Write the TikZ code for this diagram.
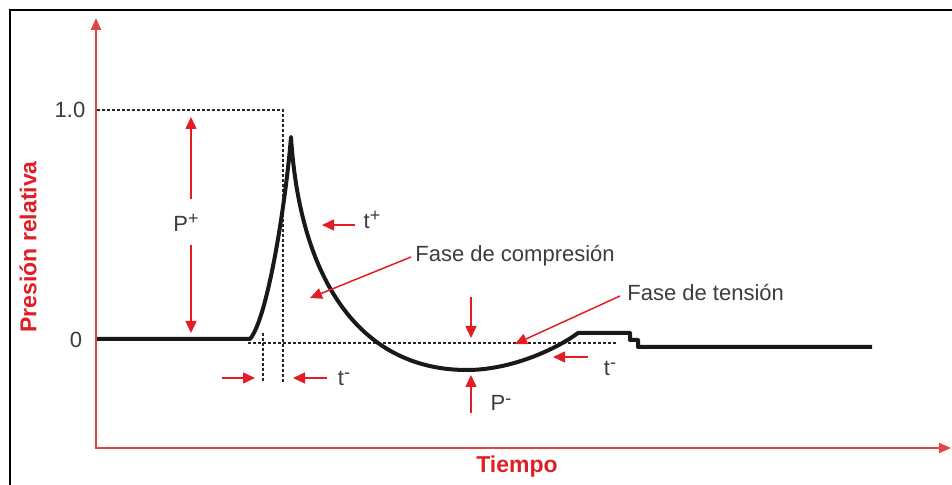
\documentclass[tikz,border=0pt]{standalone}
\usepackage{fontspec}
\setmainfont{Liberation Sans}
\usepackage{xcolor}
\usetikzlibrary{arrows.meta}
\definecolor{axisred}{RGB}{224,70,70}
\definecolor{notered}{RGB}{226,30,36}
\definecolor{textgray}{RGB}{60,60,60}
\newcommand{\upper}[1]{\raisebox{0.55ex}{\fontsize{9}{10}\selectfont #1}}

\begin{document}
\begin{tikzpicture}[x=0.5pt, y=-0.5pt,
	axis/.style={draw=axisred, line width=1pt, {Triangle[length=6pt,width=5pt]}-{Triangle[length=6pt,width=5pt]}},
	axislabel/.style={text=notered, font=\fontsize{11.5}{13}\selectfont\bfseries},
	ticklabel/.style={text=textgray, font=\fontsize{11}{13}\selectfont},
	note/.style={draw=notered, line width=0.75pt, -{Triangle[length=6pt,width=5.5pt]}},
	notelabel/.style={text=textgray, font=\fontsize{11}{13}\selectfont, inner sep=0pt},
	guide/.style={draw=black!85, line width=0.6pt, dash pattern=on 1.5pt off 1pt},
	signal/.style={draw=black!90, line width=2pt, line join=round}]
	\useasboundingbox (0,0) rectangle (952,485);
	\draw[line width=1pt] (10,485) -- (10,10) -- (952,10);
	\coordinate (ytip) at (96,18);
	\coordinate (origin) at (96,448);
	\coordinate (xtip) at (951,448);
	\draw[axis] (ytip) -- (origin) -- (xtip);
	\draw (28,247) node[axislabel, rotate=90] (ylab) {Presión relativa};
	\draw (517,467) node[axislabel] (xlab) {Tiempo};
	\draw (70,110) node[ticklabel] (one) {1.0};
	\draw (76,340) node[ticklabel] (zero) {0};
	\draw[guide] (97,110) -- (283,110) -- (283,383);
	\draw[guide] (263,333) -- (263,383);
	\draw[guide] (248,343) -- (617,343);
	\draw[signal] (97,339) -- (250,339)
		.. controls (268,318) and (286,200) .. (291,137)
		.. controls (300,280) and (360,370) .. (467,370)
		.. controls (510,370) and (555,350) .. (578,333)
		-- (630,333) -- (630,340) -- (638,340) -- (638,347) -- (872,347);
	\draw (186,223) node[notelabel] (pplus) {P\upper{+}};
	\coordinate (pplustop) at (191,117);
	\coordinate (pplusbot) at (191,333);
	\draw[note] (191,199) -- (pplustop);
	\draw[note] (191,245) -- (pplusbot);
	\draw (372,220) node[notelabel] (tplus) {t\upper{+}};
	\draw[note] (355,225) -- (322,225);
	\draw (415,262) node[notelabel, anchor=base west] (compr) {Fase de compresión};
	\draw[note] (411,257) -- (310,298);
	\draw (627,301) node[notelabel, anchor=base west] (tens) {Fase de tensión};
	\draw[note] (620,296) -- (515,344);
	\draw (344,378) node[notelabel] (tminusa) {t\upper{-}};
	\draw[note] (222,378) -- (255,378);
	\draw[note] (327,378) -- (293,378);
	\draw (610,368) node[notelabel] (tminusb) {t\upper{-}};
	\draw[note] (588,357) -- (553,357);
	\draw (501,403) node[notelabel] (pminus) {P\upper{-}};
	\draw[note] (471,297) -- (471,338);
	\draw[note] (471,413) -- (471,375);
\end{tikzpicture}
\end{document}
